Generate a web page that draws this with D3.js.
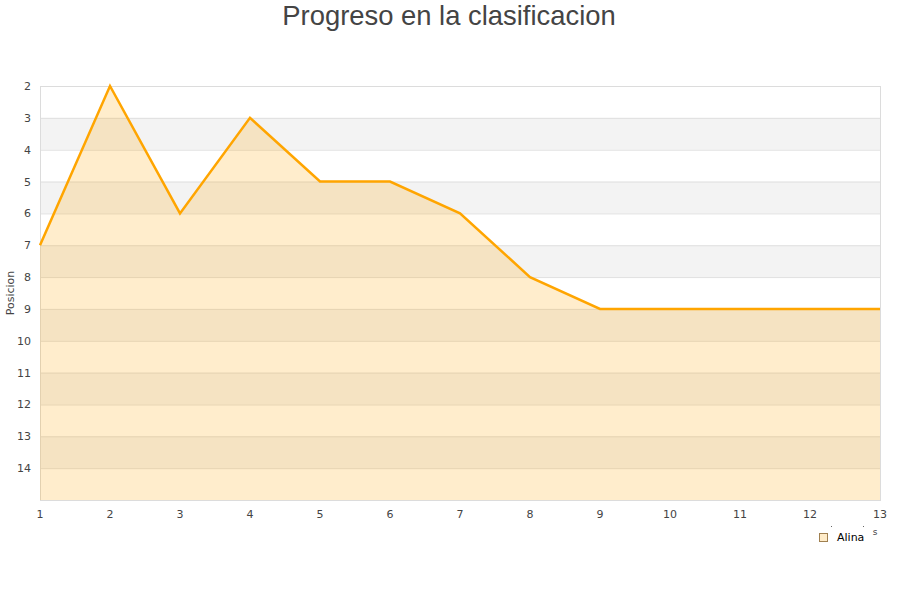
<!DOCTYPE html>
<html><head><meta charset="utf-8">
<script src="https://cdn.jsdelivr.net/npm/d3@7"></script>
<style>body{margin:0;background:#fff}svg{display:block}</style>
</head><body>
<svg id="c" width="900" height="600"></svg>
<script>
const rounds = [1,2,3,4,5,6,7,8,9,10,11,12,13];
const positions = [7,2,6,3,5,5,6,8,9,9,9,9,9];
const yTicks = [2,3,4,5,6,7,8,9,10,11,12,13,14];
const seriesName = "Alina";
const title = "Progreso en la clasificacion";
const yTitle = "Posicion";

const svg = d3.select("#c");
const L=40,R=880,T=86,B=500;
const x = d3.scaleLinear().domain([1,13]).range([L,R]);
const y = d3.scaleLinear().domain([2,15]).range([T,B]);

svg.append("text").attr("x",449).attr("y",25).attr("text-anchor","middle")
  .attr("font-family","Liberation Sans, Arial, sans-serif").attr("font-size",27.4).attr("fill","#444").text(title);

// bands
const bands = [3,5,7,9,11,13];
svg.selectAll("rect.band").data(bands).enter().append("rect")
  .attr("x",L).attr("width",R-L).attr("y",d=>y(d)).attr("height",d=>y(d+1)-y(d)).attr("fill","#f3f3f3");
// grid
svg.selectAll("line.grid").data(yTicks.concat([15])).enter().append("line")
  .attr("x1",L).attr("x2",R).attr("y1",d=>y(d)+0.5).attr("y2",d=>y(d)+0.5).attr("stroke","#e0e0e0");
// border
svg.append("rect").attr("x",L+0.5).attr("y",T+0.5).attr("width",R-L).attr("height",B-T)
  .attr("fill","none").attr("stroke","#dcdcdc");

const area = d3.area().x((d,i)=>x(rounds[i])).y0(y(15)).y1(d=>y(d));
svg.append("path").datum(positions).attr("d",area).attr("fill","rgba(255,165,0,0.2)");
const line = d3.line().x((d,i)=>x(rounds[i])).y(d=>y(d));
svg.append("path").datum(positions).attr("d",line).attr("fill","none").attr("stroke","#ffa500").attr("stroke-width",2.5);

// y axis labels
svg.selectAll("text.yt").data(yTicks).enter().append("text")
  .attr("x",31).attr("y",d=>y(d)+4).attr("text-anchor","end")
  .attr("font-family","DejaVu Sans, sans-serif").attr("font-size",11).attr("fill","#444").text(d=>d);
// x axis labels
svg.selectAll("text.xt").data(rounds).enter().append("text")
  .attr("x",d=>x(d)).attr("y",518).attr("text-anchor","middle")
  .attr("font-family","DejaVu Sans, sans-serif").attr("font-size",11).attr("fill","#444").text(d=>d);

svg.append("text").attr("transform","translate(14,293) rotate(-90)").attr("text-anchor","middle")
  .attr("font-family","DejaVu Sans, sans-serif").attr("font-size",11).attr("fill","#444").text(yTitle);

// clipped axis title remnant
svg.append("text").attr("x",875).attr("y",535).attr("text-anchor","middle")
  .attr("font-family","DejaVu Sans, sans-serif").attr("font-size",9).attr("fill","#444").text("s");
svg.selectAll("circle.dot").data([831,863]).enter().append("rect")
  .attr("x",d=>d).attr("y",526).attr("width",1).attr("height",1).attr("fill","#666");

// legend
svg.append("rect").attr("x",819.5).attr("y",533.5).attr("width",8).attr("height",8)
  .attr("fill","#ffecc9").attr("stroke","#a08050");
svg.append("text").attr("x",837).attr("y",541).attr("font-family","DejaVu Sans, sans-serif")
  .attr("font-size",11).attr("fill","#000").text(seriesName);
</script>
</body></html>
